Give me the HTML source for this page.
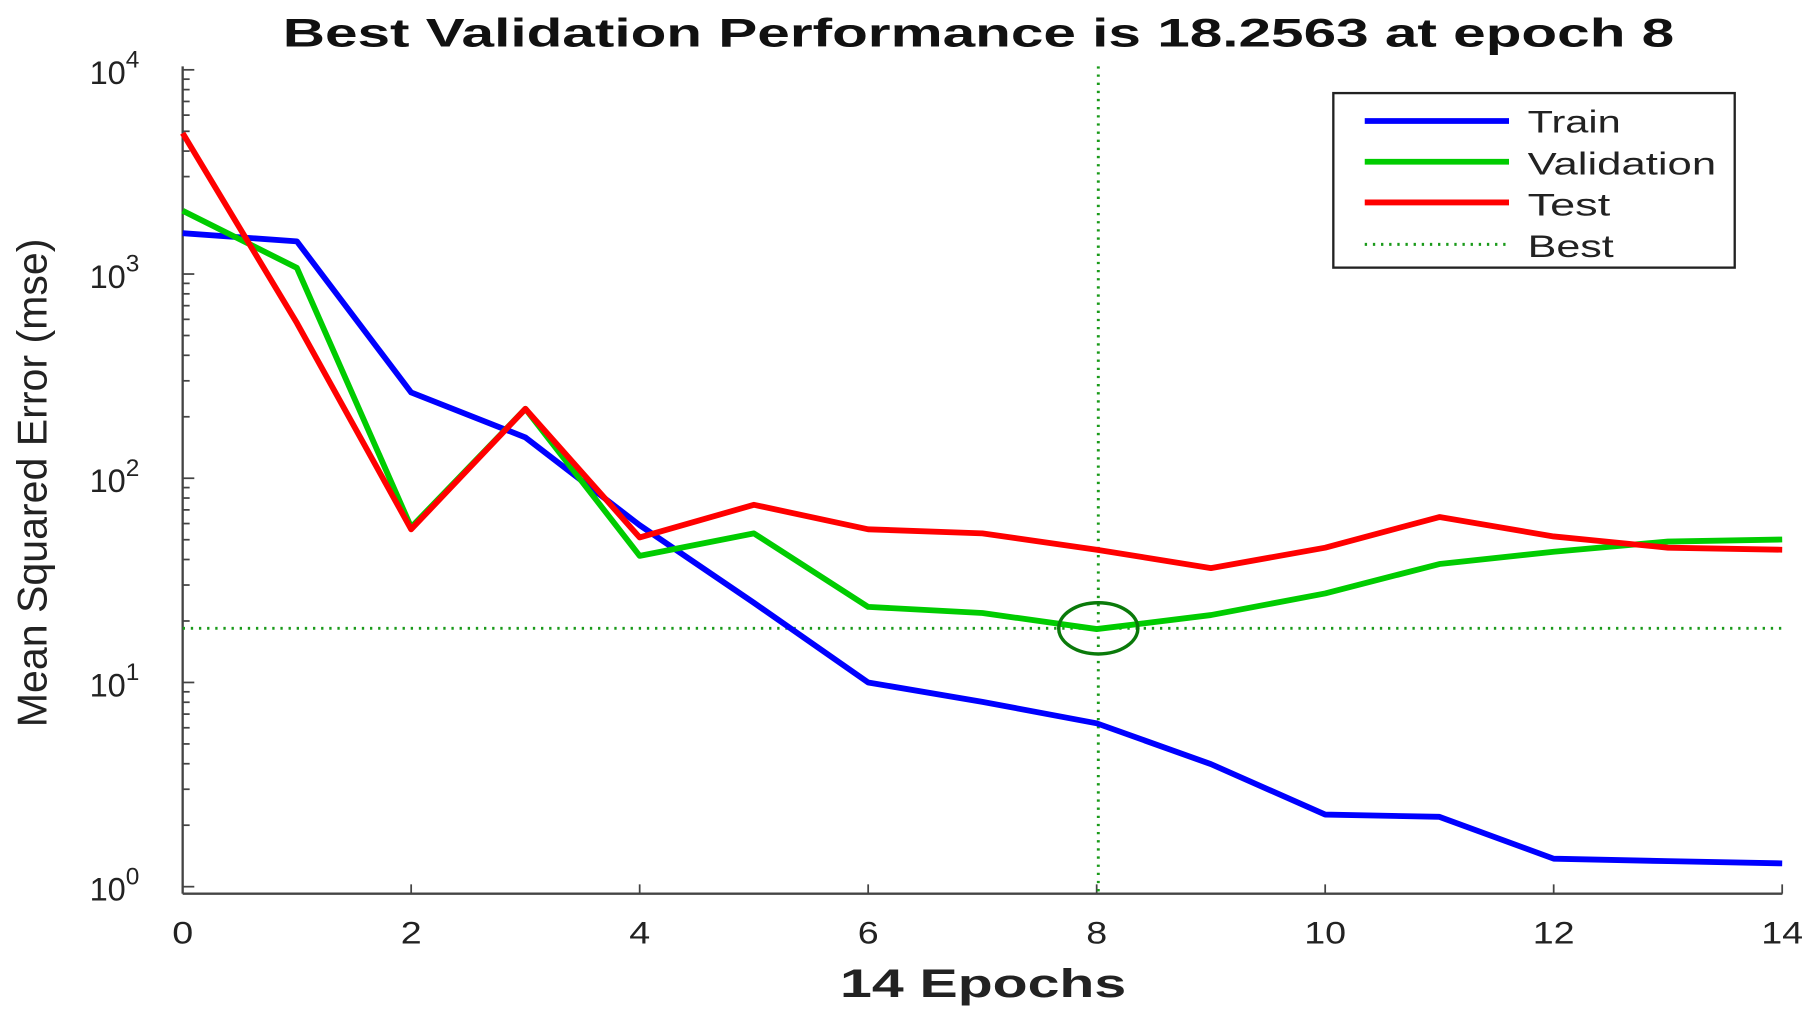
<!DOCTYPE html>
<html><head><style>html,body{margin:0;padding:0;background:#fff;}svg{display:block}</style></head>
<body>
<svg width="1815" height="1017" viewBox="0 0 1560 874" preserveAspectRatio="none" xmlns="http://www.w3.org/2000/svg" font-family="Liberation Sans, sans-serif">
<rect width="1560" height="874" fill="#fff"/>
<text x="841" y="40" font-size="34" font-weight="bold" text-anchor="middle" fill="#111" textLength="1196" lengthAdjust="spacingAndGlyphs">Best Validation Performance is 18.2563 at epoch 8</text>
<g stroke="#444" stroke-width="2" fill="none">
<line x1="157" y1="57" x2="157" y2="768"/>
<line x1="157" y1="768" x2="1532" y2="768"/>
</g>
<g stroke="#444" stroke-width="1.5" id="ticks"></g>
<g font-size="27" fill="#222" text-anchor="middle" id="xl"></g>
<g font-size="28" fill="#222" id="yl"></g>
<text transform="translate(40,415) rotate(-90)" font-size="36" text-anchor="middle" fill="#222" textLength="420" lengthAdjust="spacingAndGlyphs">Mean Squared Error  (mse)</text>
<text x="845" y="857" font-size="34" font-weight="bold" text-anchor="middle" fill="#222" textLength="246" lengthAdjust="spacingAndGlyphs">14 Epochs</text>
<g stroke="#1a9a1a" stroke-width="2.5" stroke-dasharray="2,5" fill="none">
<line x1="944" y1="57" x2="944" y2="768"/>
<line x1="157" y1="540" x2="1532" y2="540"/>
</g>
<g fill="none" stroke-width="5" stroke-linejoin="round">
<polyline id="pt" stroke="#0000ff"/>
<polyline id="pv" stroke="#00cc00"/>
<polyline id="ps" stroke="#ff0000"/>
</g>
<ellipse cx="944" cy="540" rx="34" ry="22" fill="none" stroke="#0a7a0a" stroke-width="3"/>
<rect x="1146" y="80" width="345" height="150" fill="#fff" stroke="#222" stroke-width="2"/>
<g stroke-width="5">
<line x1="1173" y1="104" x2="1297" y2="104" stroke="#0000ff"/>
<line x1="1173" y1="139" x2="1297" y2="139" stroke="#00cc00"/>
<line x1="1173" y1="174" x2="1297" y2="174" stroke="#ff0000"/>
<line x1="1173" y1="210" x2="1297" y2="210" stroke="#1a9a1a" stroke-width="2.5" stroke-dasharray="2,5"/>
</g>
<g font-size="27" fill="#222" lengthAdjust="spacingAndGlyphs">
<text x="1313" y="114" textLength="80" lengthAdjust="spacingAndGlyphs">Train</text>
<text x="1313" y="150" textLength="162" lengthAdjust="spacingAndGlyphs">Validation</text>
<text x="1313" y="185" textLength="71" lengthAdjust="spacingAndGlyphs">Test</text>
<text x="1313" y="221" textLength="74" lengthAdjust="spacingAndGlyphs">Best</text>
</g>
<script>
var X=e=>157+98.2*e, Y=l=>762-175.5*l;
function pts(a){return a.map((l,i)=>X(i)+","+Y(l)).join(" ");}
document.getElementById("pt").setAttribute("points",pts([3.2,3.16,2.42,2.2,1.77,1.39,1.0,0.905,0.80,0.60,0.353,0.342,0.137,0.125,0.114]));
document.getElementById("pv").setAttribute("points",pts([3.31,3.03,1.76,2.34,1.62,1.73,1.37,1.34,1.2615,1.33,1.436,1.58,1.64,1.69,1.70]));
document.getElementById("ps").setAttribute("points",pts([3.69,2.76,1.75,2.34,1.71,1.87,1.75,1.73,1.65,1.56,1.66,1.81,1.715,1.66,1.65]));
var ns="http://www.w3.org/2000/svg",tk=document.getElementById("ticks"),xl=document.getElementById("xl"),yl=document.getElementById("yl");
function el(p,t,a,txt){var e=document.createElementNS(ns,t);for(var k in a)e.setAttribute(k,a[k]);if(txt!=null)e.textContent=txt;p.appendChild(e);return e;}
for(var e=0;e<=14;e+=2){el(tk,"line",{x1:X(e),y1:768,x2:X(e),y2:760});el(xl,"text",{x:X(e),y:811,textLength:(e<10?18:36),lengthAdjust:"spacingAndGlyphs"},e);}
for(var d=0;d<=4;d++){var y=Y(d);el(tk,"line",{x1:157,y1:y,x2:167,y2:y});
var t=el(yl,"text",{x:77,y:y+12});el(t,"tspan",{},"10");el(t,"tspan",{dy:-14,"font-size":21},String(d));
if(d<4)for(var m=2;m<=9;m++){var yy=Y(d+Math.log10(m));el(tk,"line",{x1:157,y1:yy,x2:163,y2:yy});}}
</script>
</svg>
</body></html>
